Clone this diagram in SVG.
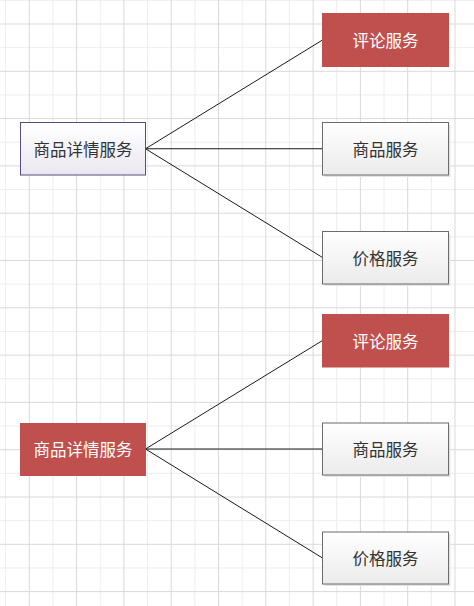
<svg xmlns="http://www.w3.org/2000/svg" width="474" height="606" viewBox="0 0 474 606">
<defs>
<pattern id="grid" patternUnits="userSpaceOnUse" x="28.8" y="23.5" width="47.3" height="47.3">
<rect x="23.65" y="0" width="1" height="47.3" fill="#ededed"/>
<rect x="0" y="23.65" width="47.3" height="1" fill="#ededed"/>
<rect x="0" y="0" width="1" height="47.3" fill="#d9d9d9"/>
<rect x="0" y="0" width="47.3" height="1" fill="#d9d9d9"/>
</pattern>
<linearGradient id="gGray" x1="0" y1="0" x2="0" y2="1">
<stop offset="0" stop-color="#ffffff"/>
<stop offset="1" stop-color="#ebebeb"/>
</linearGradient>
<linearGradient id="gPurple" x1="0" y1="0" x2="0" y2="1">
<stop offset="0" stop-color="#ffffff"/>
<stop offset="1" stop-color="#ebe7f1"/>
</linearGradient>
</defs>
<style>
.shadow{fill:#e4e4e4;}
.gray{fill:url(#gGray);stroke:#6b6b6b;stroke-width:1;}
.purple{fill:url(#gPurple);stroke:#5a4a80;stroke-width:1;}
.red{fill:#c0504d;stroke:#c0504d;stroke-width:1;}
.t{font-family:"Noto Sans CJK SC","Noto Sans",sans-serif;font-size:16.5px;text-anchor:middle;dominant-baseline:central;}
.dark{fill:#333333;}
.light{fill:#ffffff;}
.conn line{stroke:#1a1a1a;stroke-width:1;fill:none;}
</style>
<rect width="474" height="606" fill="#ffffff"/>
<rect width="474" height="606" fill="url(#grid)"/>
<g class="conn" id="connectors">
<line x1="145.5" y1="148.75" x2="322.5" y2="40"/>
<line x1="145.5" y1="148.75" x2="322.5" y2="148.75"/>
<line x1="145.5" y1="148.75" x2="322.5" y2="257.5"/>
<line x1="145.5" y1="449" x2="322.5" y2="340.5"/>
<line x1="145.5" y1="449" x2="322.5" y2="449"/>
<line x1="145.5" y1="449" x2="322.5" y2="558"/>
</g>
<g id="detail1">
<rect class="purple" x="20.5" y="122.5" width="125" height="52.5"/>
<text class="t dark" x="83" y="148.75">商品详情服务</text>
</g>
<g id="comment1">
<rect class="red" x="322.5" y="13.5" width="126" height="53"/>
<text class="t light" x="385.5" y="40">评论服务</text>
</g>
<g id="product1">
<rect class="shadow" x="324.5" y="124.5" width="126" height="52.5"/>
<rect class="gray" x="322.5" y="122.5" width="126" height="52.5"/>
<text class="t dark" x="385.5" y="148.75">商品服务</text>
</g>
<g id="price1">
<rect class="shadow" x="324.5" y="233.5" width="126" height="52.5"/>
<rect class="gray" x="322.5" y="231.5" width="126" height="52.5"/>
<text class="t dark" x="385.5" y="257.75">价格服务</text>
</g>
<g id="detail2">
<rect class="red" x="20.5" y="423.5" width="125" height="52"/>
<text class="t light" x="83" y="449">商品详情服务</text>
</g>
<g id="comment2">
<rect class="red" x="322.5" y="314.5" width="126" height="52.5"/>
<text class="t light" x="385.5" y="340.5">评论服务</text>
</g>
<g id="product2">
<rect class="shadow" x="324.5" y="425" width="126" height="52"/>
<rect class="gray" x="322.5" y="423" width="126" height="52"/>
<text class="t dark" x="385.5" y="449">商品服务</text>
</g>
<g id="price2">
<rect class="shadow" x="324.5" y="534" width="126" height="52"/>
<rect class="gray" x="322.5" y="532" width="126" height="52"/>
<text class="t dark" x="385.5" y="558">价格服务</text>
</g>
</svg>
